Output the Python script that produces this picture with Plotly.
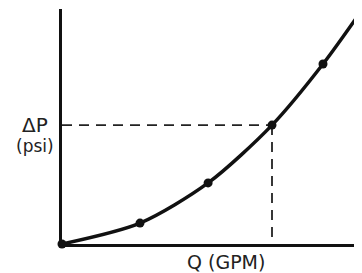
import plotly.graph_objects as go

q_values = [0.0, 2.6, 4.87, 7.0, 8.7, 9.97]
dp_values = [0.0, 0.89, 2.6, 5.06, 7.66, 9.91]
op_index = 3
x_label = "Q (GPM)"
y_label_top = "ΔP"
y_label_bottom = "(psi)"

fig = go.Figure()

qo, po = q_values[op_index], dp_values[op_index]
fig.add_trace(go.Scatter(x=[0, qo], y=[po, po], mode="lines",
                         line=dict(color="#222", width=1.8, dash="10px,7px"),
                         hoverinfo="skip", showlegend=False))
fig.add_trace(go.Scatter(x=[qo, qo], y=[po, 0], mode="lines",
                         line=dict(color="#222", width=1.8, dash="10px,7px"),
                         hoverinfo="skip", showlegend=False))
fig.add_trace(go.Scatter(x=q_values, y=dp_values, mode="lines+markers",
                         line=dict(color="#111", width=3.5, shape="spline", smoothing=0.8),
                         marker=dict(color="#111", size=9),
                         cliponaxis=False, showlegend=False))

fig.update_xaxes(range=[0, 10], showline=True, linecolor="#111", linewidth=3,
                 showgrid=False, zeroline=False, showticklabels=False, ticks="")
fig.update_yaxes(range=[0, 10], showline=True, linecolor="#111", linewidth=3,
                 showgrid=False, zeroline=False, showticklabels=False, ticks="")

font = "DejaVu Sans, Verdana, sans-serif"
fig.add_annotation(text=y_label_top, xref="paper", yref="y", x=-0.09, y=5.06,
                   xanchor="center", yanchor="middle",
                   showarrow=False, font=dict(size=20, color="#222", family=font))
fig.add_annotation(text=y_label_bottom, xref="paper", yref="y", x=-0.09, y=4.17,
                   xanchor="center", yanchor="middle",
                   showarrow=False, font=dict(size=17, color="#222", family=font))
fig.add_annotation(text=x_label, xref="x", yref="paper", x=5.47, y=-0.075,
                   xanchor="center", yanchor="middle",
                   showarrow=False, font=dict(size=19, color="#222", family=font))

# page body has an 8px margin; size the figure so the plot lands where the reference has it
fig.update_layout(width=354, height=265, margin=dict(l=54, r=0, t=1, b=29),
                  plot_bgcolor="white", paper_bgcolor="white")

fig.write_html("out.html")
